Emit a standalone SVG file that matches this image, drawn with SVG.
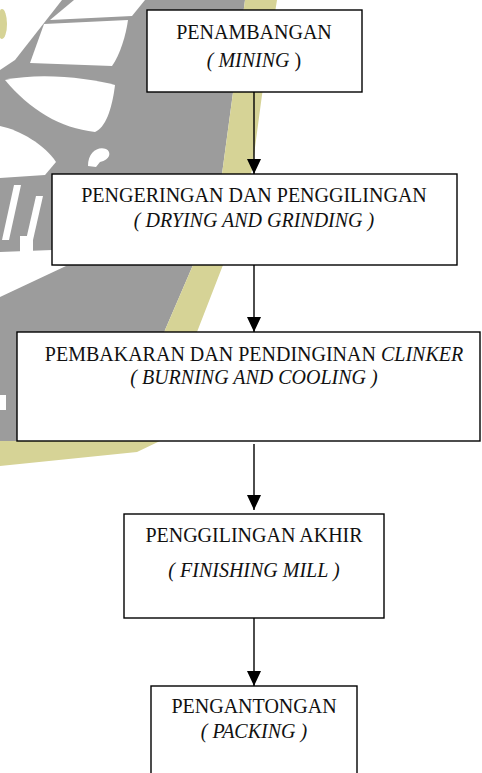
<svg xmlns="http://www.w3.org/2000/svg" width="482" height="773" viewBox="0 0 482 773">
<style>
.box{fill:#ffffff;stroke:#000000;stroke-width:1.4}
.t{font-family:'Liberation Serif','Times New Roman','DejaVu Serif',serif;font-size:20px;fill:#111111;text-anchor:middle}
.i{font-style:italic}
.conn{stroke:#000000;stroke-width:1.4;fill:none;marker-end:url(#ah)}
.wg{fill:#9c9c9c}
.wy{fill:#d6d396}
.ww{fill:#ffffff}
</style>
<defs>
<marker id="ah" markerUnits="userSpaceOnUse" markerWidth="15" markerHeight="14" refX="15" refY="7" orient="auto" viewBox="0 0 15 14">
<path d="M0,0 L15,7 L0,14 Z" fill="#000000"/>
</marker>
</defs>
<rect x="0" y="0" width="482" height="773" fill="#ffffff"/>
<g id="watermark">
<path class="wg" d="M0,0 L245,0 L232,100 L222,174 L193,265 L165,330 L140,441 L0,441 Z"/>
<path class="wy" d="M245,0 L277,0 L262,95 L252,170 L223,265 L197,332 L160,441 L137,452 L0,466 L0,441 L140,441 L165,330 L193,265 L222,174 L232,100 Z"/>
<path class="ww" d="M0,0 L62,0 L15,60 L0,70 Z"/>
<ellipse class="wy" cx="2" cy="24" rx="5" ry="15"/>
<path class="ww" d="M74,0 L145,0 L132,16 L50,20 Z"/>
<path class="ww" d="M30,63 L44,24 L128,20 C126,35 120,55 112,66 Z"/>
<path class="ww" d="M5,80 C40,72 90,78 115,85 C112,110 105,128 95,132 C60,128 30,110 5,80 Z"/>
<path class="ww" d="M0,126 C20,130 45,145 56,162 L45,175 L0,178 Z"/>
<path class="ww" d="M88,166 C88,152 98,146 106,149 C112,152 110,160 100,162 L96,167 Z"/>
<path class="ww" d="M14,185 L21,185 L9,240 L2,240 Z"/>
<path class="ww" d="M36,196 L43,196 L33,240 L26,240 Z"/>
<path class="ww" d="M0,252 L52,250 L52,265 L66,266 L0,297 Z"/>
<path class="ww" d="M20,236 L33,236 L33,252 L20,252 Z"/>
<rect class="ww" x="0" y="395" width="6" height="15"/>
</g>
<g id="connectors">
<line class="conn" x1="254" y1="92" x2="254" y2="174"/>
<line class="conn" x1="254" y1="265" x2="254" y2="332"/>
<line class="conn" x1="254" y1="444" x2="254" y2="510"/>
<line class="conn" x1="254" y1="618" x2="254" y2="686"/>
</g>
<g id="n1">
<rect class="box" x="147" y="10" width="215" height="82"/>
<text class="t" x="254" y="39" font-family="Liberation Serif">PENAMBANGAN</text>
<text class="t" x="254" y="67" font-family="Liberation Serif"><tspan class="i">( MINING </tspan>)</text>
</g>
<g id="n2">
<rect class="box" x="52" y="174" width="405" height="91"/>
<text class="t" x="254" y="202" font-family="Liberation Serif">PENGERINGAN DAN PENGGILINGAN</text>
<text class="t i" x="254" y="227" font-family="Liberation Serif">( DRYING AND GRINDING )</text>
</g>
<g id="n3">
<rect class="box" x="17" y="332" width="463" height="109"/>
<text class="t" x="254" y="361" font-family="Liberation Serif">PEMBAKARAN DAN PENDINGINAN <tspan class="i">CLINKER</tspan></text>
<text class="t i" x="254" y="384" font-family="Liberation Serif">( BURNING AND COOLING )</text>
</g>
<g id="n4">
<rect class="box" x="124" y="514" width="260" height="104"/>
<text class="t" x="254" y="542" font-family="Liberation Serif">PENGGILINGAN AKHIR</text>
<text class="t i" x="254" y="577" font-family="Liberation Serif">( FINISHING MILL )</text>
</g>
<g id="n5">
<rect class="box" x="151" y="686" width="206" height="100"/>
<text class="t" x="254" y="713" font-family="Liberation Serif">PENGANTONGAN</text>
<text class="t i" x="254" y="738" font-family="Liberation Serif">( PACKING )</text>
</g>
</svg>
